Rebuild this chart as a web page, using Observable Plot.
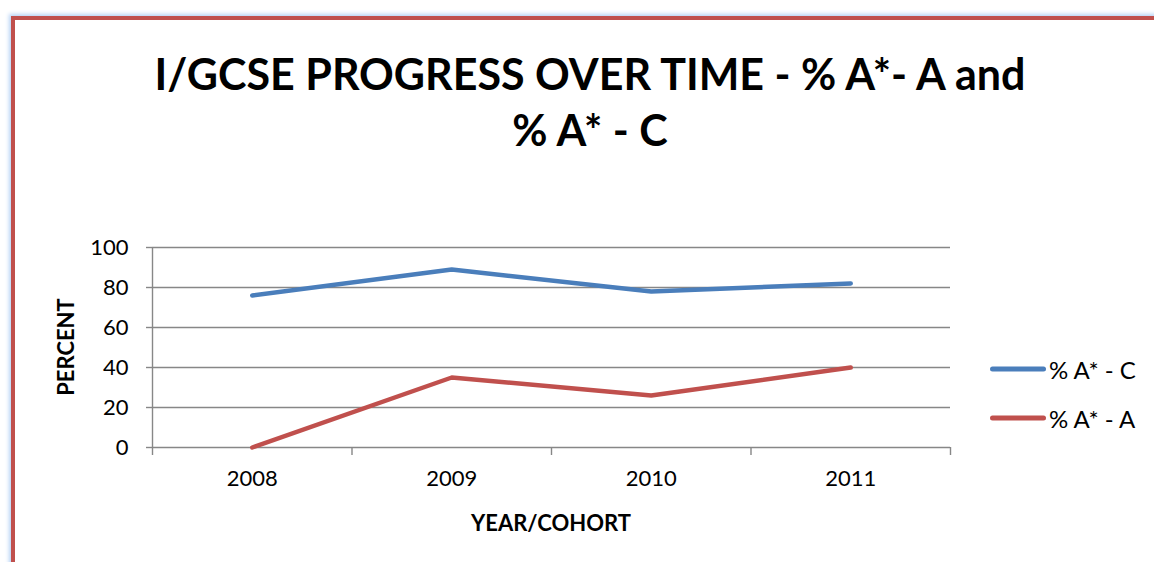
<!DOCTYPE html>
<html>
<head>
<meta charset="utf-8">
<script src="https://cdn.jsdelivr.net/npm/d3@7"></script>
<script src="https://cdn.jsdelivr.net/npm/@observablehq/plot@0.6"></script>
<style>
  html, body { margin: 0; padding: 0; background: #fff; }
  #wrap { position: relative; width: 1154px; height: 562px; overflow: hidden; font-family: Lato, "Open Sans", sans-serif; color: #000; }
  #frame { position: absolute; left: 11px; top: 16px; width: 1300px; height: 700px; border-left: 4px solid #c0504d; border-top: 4px solid #c0504d; box-shadow: -2px -2px 4px #b8d3f5; }
  #chart { position: absolute; left: 0; top: 0; }
  .title { position: absolute; left: 0; width: 1180px; text-align: center; font-weight: 700; font-size: 43px; line-height: 1; }
  .ylab { position: absolute; left: 65px; top: 347px; transform: translate(-50%, -50%) rotate(-90deg); font-weight: 700; font-size: 22px; white-space: nowrap; }
  .xlab { position: absolute; left: 551px; top: 522px; transform: translate(-50%, -50%); font-weight: 700; font-size: 22px; white-space: nowrap; }
  .leg { position: absolute; left: 990px; display: flex; align-items: center; font-size: 24px; transform: translateY(-50%); }
  .leg .sw { width: 56px; height: 5px; border-radius: 3px; margin-right: 3px; }
</style>
</head>
<body>
<div id="wrap">
  <div id="frame"></div>
  <div id="chart"></div>
  <div class="title" style="top:52px">I/GCSE PROGRESS OVER TIME - % A*- A and</div>
  <div class="title" style="top:108px">% A* - C</div>
  <div class="ylab">PERCENT</div>
  <div class="xlab">YEAR/COHORT</div>
  <div id="legend"></div>
</div>
<script>
const years = [2008, 2009, 2010, 2011];
const seriesNames = ["% A* - C", "% A* - A"];
const pctAC = [76, 89, 78, 82];
const pctAA = [0, 35, 26, 40];
const yTicks = [0, 20, 40, 60, 80, 100];
const colors = ["#4a7ebb", "#c0504d"];

const data = [];
years.forEach((yr, i) => {
  data.push({year: yr, value: pctAC[i], series: seriesNames[0]});
  data.push({year: yr, value: pctAA[i], series: seriesNames[1]});
});
const edges = years.map(y => y - 0.5).concat([years[years.length - 1] + 0.5]);
const grid = "#878787";

const plot = Plot.plot({
  width: 1154,
  height: 562,
  marginLeft: 152,
  marginRight: 204,
  marginTop: 247,
  marginBottom: 115,
  style: {fontFamily: "Lato, 'Open Sans', sans-serif", fontSize: "22px", color: "#000", background: "transparent", overflow: "visible"},
  x: {type: "linear", domain: [edges[0], edges[edges.length - 1]]},
  y: {domain: [0, 100]},
  color: {domain: seriesNames, range: colors},
  marks: [
    Plot.ruleY(yTicks, {stroke: grid, strokeWidth: 1.4}),
    Plot.ruleX([edges[0]], {stroke: grid, strokeWidth: 1.4, y1: 0, y2: 100}),
    Plot.axisY({ticks: yTicks, tickSize: 6, tickPadding: 18, stroke: grid, strokeWidth: 1.4, fill: "#000", fontSize: 22, label: null, tickFormat: d => String(d)}),
    Plot.axisX({ticks: edges, tickSize: 8, tickFormat: () => "", stroke: grid, strokeWidth: 1.4, label: null}),
    Plot.axisX({ticks: years, tickSize: 0, tickPadding: 23, tickFormat: d => String(d), fill: "#000", fontSize: 22, label: null}),
    Plot.line(data, {x: "year", y: "value", z: "series", stroke: "series", strokeWidth: 4.5, strokeLinecap: "round", strokeLinejoin: "round"})
  ]
});
document.getElementById("chart").appendChild(plot);

const legend = document.getElementById("legend");
const legTops = [369, 418];
seriesNames.forEach((name, i) => {
  const row = document.createElement("div");
  row.className = "leg";
  row.style.top = legTops[i] + "px";
  row.innerHTML = `<div class="sw" style="background:${colors[i]}"></div><span>${name}</span>`;
  legend.appendChild(row);
});
</script>
</body>
</html>
